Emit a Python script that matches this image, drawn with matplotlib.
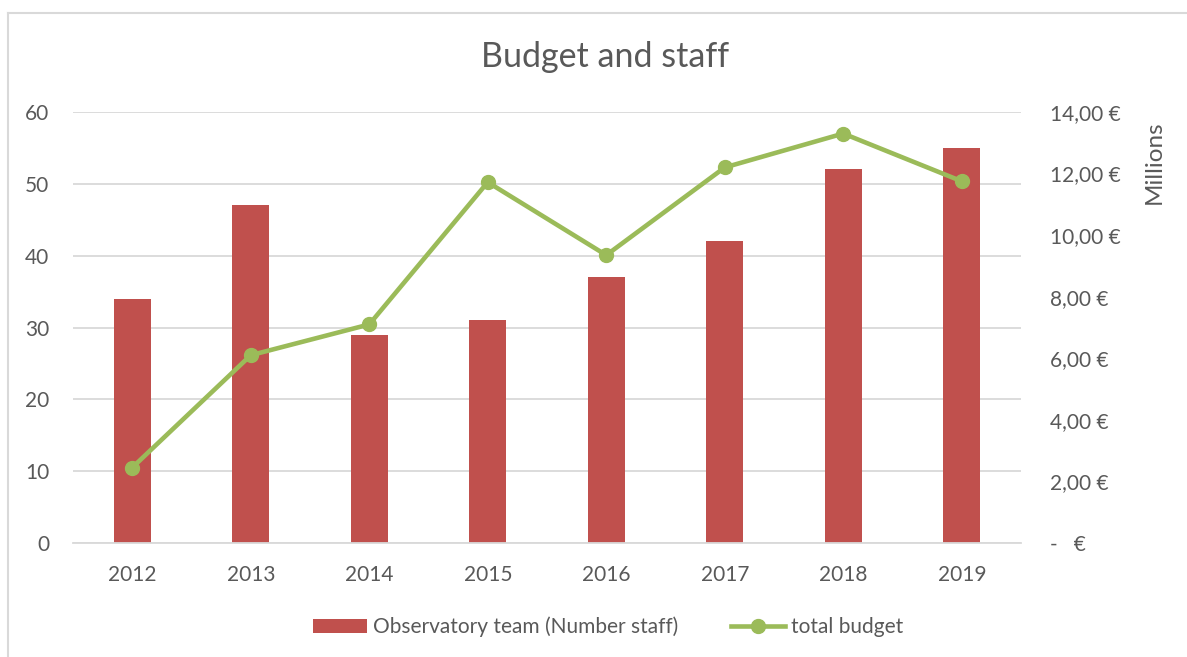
import matplotlib
matplotlib.use("Agg")
import matplotlib.pyplot as plt
from matplotlib.lines import Line2D
from matplotlib.ticker import FuncFormatter

years = ["2012", "2013", "2014", "2015", "2016", "2017", "2018", "2019"]
staff = [34, 47, 29, 31, 37, 42, 52, 55]
budget_millions = [2.45, 6.1, 7.1, 11.72, 9.35, 12.2, 13.3, 11.75]

plt.rcParams['font.family'] = ['Lato', 'DejaVu Sans']
TXT = '#595959'
GRID = '#D9D9D9'
RED = '#C0504D'
GREEN = '#9BBB59'

fig = plt.figure(figsize=(11.87, 6.57), dpi=100)
ax = fig.add_axes([73/1187, 1-543/657, (1021-73)/1187, (543-112)/657])
x = list(range(len(years)))
bars = ax.bar(x, staff, width=0.31, color=RED, zorder=2, label='Observatory team (Number staff)')
ax.set_xlim(-0.5, len(years)-0.5)
ax.set_ylim(0, 60)
ax.set_yticks(range(0, 61, 10))
ax.set_xticks(x)
ax.set_xticklabels(years)
ax.grid(axis='y', color=GRID, linewidth=1.3, zorder=0)
ax.set_axisbelow(True)
for s in ['top', 'right', 'left']:
    ax.spines[s].set_visible(False)
ax.spines['bottom'].set_color(GRID)
ax.spines['bottom'].set_linewidth(1.3)
ax.tick_params(axis='both', length=0, colors=TXT, labelsize=15)
ax.tick_params(axis='y', pad=17)
ax.tick_params(axis='x', pad=16)

ax2 = ax.twinx()
ax2.plot(x, budget_millions, color=GREEN, linewidth=3.3, marker='o', markersize=10, zorder=3)
ax2.set_ylim(0, 14)
ax2.set_yticks(range(0, 15, 2))
def fmt(v, pos):
    if abs(v) < 1e-9:
        return '-   €'
    return f"{v:.2f}".replace('.', ',') + ' €'
ax2.yaxis.set_major_formatter(FuncFormatter(fmt))
ax2.tick_params(axis='y', length=0, colors=TXT, labelsize=15, pad=21)
for s in ax2.spines.values():
    s.set_visible(False)

fig.text(1154/1187, 1-162/657, 'Millions', rotation=90, ha='center', va='center', color=TXT, fontsize=17.5)
fig.text(605/1187, 1-57/657, 'Budget and staff', ha='center', va='center', color=TXT, fontsize=24.5)

handles = [bars, Line2D([0], [0], color=GREEN, linewidth=3.3, marker='o', markersize=10)]
labels = ['Observatory team (Number staff)', 'total budget']
leg = fig.legend(handles, labels, loc='center', bbox_to_anchor=(608/1187, 1-627/657), ncol=2,
                 frameon=False, fontsize=15, handlelength=2.6, handletextpad=0.3, columnspacing=2.5)
for t in leg.get_texts():
    t.set_color(TXT)

# chart border (top and left visible)
fig.add_artist(Line2D([8/1187, 8/1187], [0, 1-12.5/657], color=GRID, linewidth=1.5, transform=fig.transFigure))
fig.add_artist(Line2D([8/1187, 1], [1-12.5/657, 1-12.5/657], color=GRID, linewidth=1.5, transform=fig.transFigure))

fig.savefig('out.png', dpi=100)
